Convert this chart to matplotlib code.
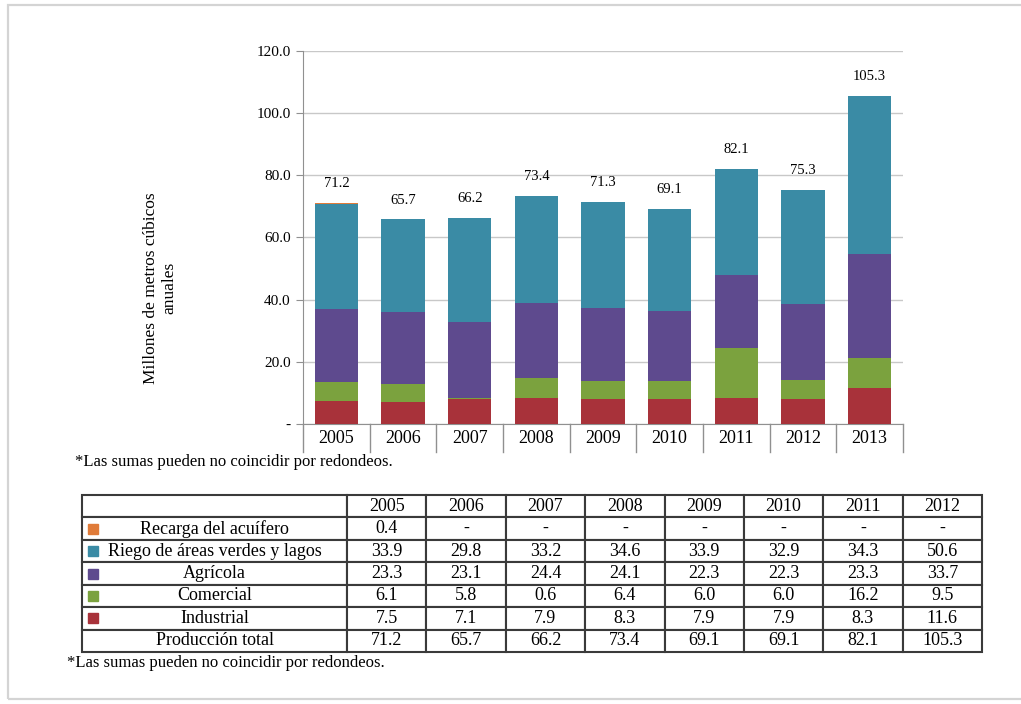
import numpy as np
import matplotlib
matplotlib.use("Agg")
import matplotlib.pyplot as plt
import matplotlib.transforms as mtransforms
from matplotlib.patches import Rectangle

plt.rcParams['font.family'] = ['Liberation Serif', 'DejaVu Serif']

# datos de la grafica (2005-2013)
anios = ['2005', '2006', '2007', '2008', '2009', '2010', '2011', '2012', '2013']
industrial = [7.5, 7.1, 7.9, 8.3, 7.9, 7.9, 8.3, 7.9, 11.6]
comercial = [6.1, 5.8, 0.6, 6.4, 6.0, 6.0, 16.2, 6.4, 9.5]
agricola = [23.3, 23.1, 24.4, 24.1, 23.5, 22.3, 23.3, 24.2, 33.7]
riego = [33.9, 29.8, 33.2, 34.6, 33.9, 32.9, 34.3, 36.8, 50.6]
recarga = [0.4, 0, 0, 0, 0, 0, 0, 0, 0]
totales = [71.2, 65.7, 66.2, 73.4, 71.3, 69.1, 82.1, 75.3, 105.3]

# datos de la tabla (tal como aparece)
tabla_anios = ['2005', '2006', '2007', '2008', '2009', '2010', '2011', '2012']
t_recarga = [0.4, None, None, None, None, None, None, None]
t_riego = [33.9, 29.8, 33.2, 34.6, 33.9, 32.9, 34.3, 50.6]
t_agricola = [23.3, 23.1, 24.4, 24.1, 22.3, 22.3, 23.3, 33.7]
t_comercial = [6.1, 5.8, 0.6, 6.4, 6.0, 6.0, 16.2, 9.5]
t_industrial = [7.5, 7.1, 7.9, 8.3, 7.9, 7.9, 8.3, 11.6]
t_total = [71.2, 65.7, 66.2, 73.4, 69.1, 69.1, 82.1, 105.3]

nombres = ['Recarga del acuífero', 'Riego de áreas verdes y lagos', 'Agrícola',
           'Comercial', 'Industrial', 'Producción total']

c_recarga = '#E07B39'
c_riego = '#3A8BA5'
c_agricola = '#5E4A8E'
c_comercial = '#7BA23E'
c_industrial = '#A8323A'

W, H = 1021, 704
fig = plt.figure(figsize=(W / 100, H / 100), dpi=100)

# marco gris de la imagen
fig.patches.append(Rectangle((8 / W, 1 - 699 / H), 1.2, 694 / H, transform=fig.transFigure,
                             fill=False, edgecolor='#D4D4D4', linewidth=1.6))

ax = fig.add_axes([303 / W, 1 - 424 / H, 600 / W, 373.3 / H])
x = np.arange(len(anios))
ancho = 0.65
bottom = np.zeros(len(anios))
for vals, col in [(industrial, c_industrial), (comercial, c_comercial),
                  (agricola, c_agricola), (riego, c_riego), (recarga, c_recarga)]:
    ax.bar(x, vals, ancho, bottom=bottom, color=col, zorder=3)
    bottom += np.array(vals)

for xi, t in zip(x, totales):
    ax.annotate(f'{t:.1f}', (xi, t), xytext=(0, 14), textcoords='offset points',
                ha='center', va='center', fontsize=10.5)

ax.set_xlim(-0.5, len(anios) - 0.5)
ax.set_ylim(0, 120)
ax.set_yticks(np.arange(0, 121, 20))
ax.set_yticklabels(['-' if v == 0 else f'{v:.1f}' for v in np.arange(0, 121, 20)], fontsize=11)
ax.yaxis.grid(True, color='#C8C8C8', linewidth=1.0, zorder=0)
ax.tick_params(axis='y', length=5, color='#909090', pad=4)
for s in ['top', 'right']:
    ax.spines[s].set_visible(False)
ax.spines['left'].set_color('#909090')
ax.spines['bottom'].set_color('#909090')

ax.set_xticks(x)
ax.set_xticklabels(anios, fontsize=13)
ax.tick_params(axis='x', length=0, pad=4)
trans = mtransforms.blended_transform_factory(ax.transData, ax.transAxes)
for b in np.arange(-0.5, len(anios), 1.0):
    ax.plot([b, b], [0, -0.075], transform=trans, color='#909090', linewidth=1.0, clip_on=False)

fig.text(160 / W, 1 - 288 / H, 'Millones de metros cúbicos\nanuales', rotation=90,
         ha='center', va='center', multialignment='center', fontsize=12.5, linespacing=1.25)

fig.text(75 / W, 1 - 462 / H, '*Las sumas pueden no coincidir por redondeos.',
         ha='left', va='center', fontsize=12)

# tabla de datos
def fmt(v):
    return '-' if v is None else f'{v:.1f}'

filas = [[''] + tabla_anios]
for nombre, serie in zip(nombres, [t_recarga, t_riego, t_agricola, t_comercial, t_industrial, t_total]):
    filas.append([nombre] + [fmt(v) for v in serie])

tax = fig.add_axes([82 / W, 1 - 652 / H, 900 / W, 157 / H])
tax.axis('off')
col0 = 265 / 900
colw = [col0] + [(1 - col0) / len(tabla_anios)] * len(tabla_anios)
tabla = tax.table(cellText=filas, colWidths=colw, cellLoc='center', bbox=[0, 0, 1, 1])
tabla.auto_set_font_size(False)
tabla.set_fontsize(13)
for (r, c), cell in tabla.get_celld().items():
    cell.set_edgecolor('#3A3A3A')
    cell.set_linewidth(1.5)
    cell.PAD = 0.02

nfil = len(filas)
sq_w, sq_h = 10 / 900, 10 / 157
for i, col in enumerate([c_recarga, c_riego, c_agricola, c_comercial, c_industrial]):
    yc = 1 - (i + 1.5) / nfil
    tax.add_patch(Rectangle((6 / 900, yc - sq_h / 2), sq_w, sq_h, color=col,
                            transform=tax.transAxes, clip_on=False, zorder=5))

fig.text(67 / W, 1 - 663 / H, '*Las sumas pueden no coincidir por redondeos.',
         ha='left', va='center', fontsize=12)

fig.savefig('out.png', dpi=100)
